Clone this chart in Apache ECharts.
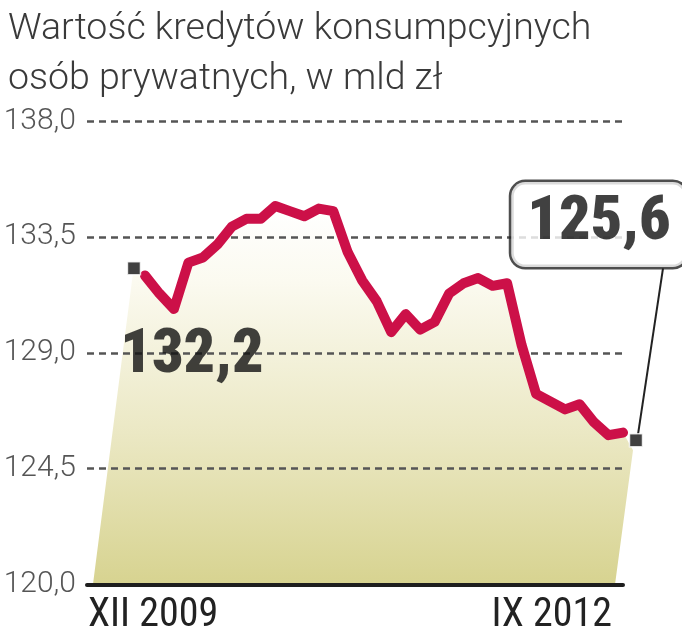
<!DOCTYPE html>
<html><head><meta charset="utf-8">
<script src="https://cdn.jsdelivr.net/npm/echarts@6/dist/echarts.min.js"></script>
<style>html,body{margin:0;padding:0;background:#fff}#c{width:682px;height:640px}</style>
</head><body><div id="c"></div>
<script>
// ---- data ----
const titleLines = ['Wartość kredytów konsumpcyjnych', 'osób prywatnych, w mld zł'];
const xLabels = ['XII 2009', 'IX 2012'];
const values = [132.0, 131.3, 130.7, 132.5, 132.7, 133.2, 133.9, 134.2, 134.2, 134.7,
                134.5, 134.3, 134.6, 134.5, 132.9, 131.8, 131.0, 129.8, 130.5, 129.9,
                130.2, 131.3, 131.7, 131.9, 131.6, 131.7, 129.3, 127.4, 127.1, 126.8,
                127.0, 126.3, 125.8, 125.9];
const endpointValues = [132.2, 125.6];
const yTicks = [120, 124.5, 129, 133.5, 138];

// ---- chart ----
const chart = echarts.init(document.getElementById('c'));
const last = values.length - 1;
const fmt = v => Number(v).toFixed(1).replace('.', ',');
const bigFont = "'Liberation Sans Narrow', 'Roboto Condensed', 'DejaVu Sans Condensed', sans-serif";
const yMin = yTicks[0], yMax = yTicks[yTicks.length - 1];

const areaFill = new echarts.graphic.LinearGradient(0, 0, 0, 1, [
  { offset: 0, color: '#ffffff' },
  { offset: 0.2, color: '#fbfaf0' },
  { offset: 0.6, color: '#ebe8c4' },
  { offset: 1, color: '#d7d390' }
]);

const option = {
  animation: false,
  title: {
    text: titleLines.join('\n'), left: 3, top: 0,
    textStyle: { fontFamily: 'Roboto', fontWeight: 300, fontSize: 37.5, lineHeight: 50, color: '#3a3a3a' }
  },
  grid: { left: 87, right: 59, top: 121, bottom: 55.5 },
  xAxis: {
    type: 'value', min: -4, max: last,
    axisLine: { show: true, onZero: false, lineStyle: { color: '#1e1e1e', width: 4 } },
    axisTick: { show: false }, axisLabel: { show: false }, splitLine: { show: false }
  },
  yAxis: {
    type: 'value', min: yMin, max: yMax,
    axisLine: { show: false },
    axisTick: { show: false, customValues: yTicks },
    axisLabel: { customValues: yTicks, formatter: v => fmt(v), fontFamily: 'Roboto', fontWeight: 300,
                 fontSize: 30, color: '#555', margin: 11 },
    splitLine: { show: true, lineStyle: { color: '#555', width: 2.5, type: [7, 5] } }
  },
  series: [
    {
      type: 'custom', z: -1, silent: true,
      data: [0],
      renderItem: (params, api) => {
        const pts = [];
        const b0 = api.coord([0, yMin]);
        pts.push([b0[0] - 52, b0[1]]);
        const s = api.coord([0, endpointValues[0]]);
        pts.push([s[0] - 12, s[1] + 3]);
        values.forEach((v, i) => pts.push(api.coord([i, v])));
        const e = api.coord([last, endpointValues[1]]);
        pts.push([e[0] + 10, e[1] + 10]);
        const b1 = api.coord([last, yMin]);
        pts.push([b1[0] - 8, b1[1]]);
        return { type: 'polygon', shape: { points: pts }, style: { fill: areaFill } };
      }
    },
    {
      type: 'line', z: 3, silent: true,
      data: values.map((v, i) => [i, v]),
      showSymbol: false,
      lineStyle: { color: '#cc1048', width: 10, join: 'round', cap: 'round' }
    },
    {
      // leader line from the end marker to the value box
      type: 'custom', z: 3, silent: true,
      data: [0],
      renderItem: (params, api) => {
        const e = api.coord([last, endpointValues[1]]);
        return { type: 'line', shape: { x1: e[0] + 15, y1: e[1] - 6, x2: e[0] + 40, y2: e[1] - 172 },
                 style: { stroke: '#222', lineWidth: 2 } };
      }
    },
    {
      type: 'scatter', z: 4, silent: true,
      symbol: 'rect', symbolSize: 13,
      itemStyle: { color: '#111', borderColor: '#ffffff', borderWidth: 1.5 },
      data: [
        {
          value: [0, endpointValues[0]], symbolOffset: [-11, -2],
          label: {
            show: true, position: 'bottom', offset: [58, 45],
            formatter: p => fmt(p.value[1]),
            fontFamily: bigFont, fontWeight: 900, fontSize: 62, lineHeight: 62, color: '#111'
          }
        },
        {
          value: [last, endpointValues[1]], symbolOffset: [13, 0],
          label: {
            show: true, position: 'top', offset: [-37, -161],
            formatter: p => fmt(p.value[1]),
            fontFamily: bigFont, fontWeight: 900, fontSize: 62, lineHeight: 62, color: '#111',
            backgroundColor: '#ffffff', borderColor: '#222', borderWidth: 2.5, borderRadius: 14,
            padding: [10, 16, 13, 16]
          }
        }
      ]
    }
  ]
};
chart.setOption(option);

const pL = chart.convertToPixel({ gridIndex: 0 }, [-4, yMin]);
const pR = chart.convertToPixel({ gridIndex: 0 }, [last, yMin]);
const xFont = "normal 40px " + bigFont;
chart.setOption({
  graphic: [
    { type: 'text', x: pL[0] + 1, y: pL[1] + 11, style: { text: xLabels[0], font: xFont, fill: '#222', textAlign: 'left', textVerticalAlign: 'top' } },
    { type: 'text', x: pR[0] - 11, y: pR[1] + 11, style: { text: xLabels[1], font: xFont, fill: '#222', textAlign: 'right', textVerticalAlign: 'top' } }
  ]
});
</script>
</body></html>
